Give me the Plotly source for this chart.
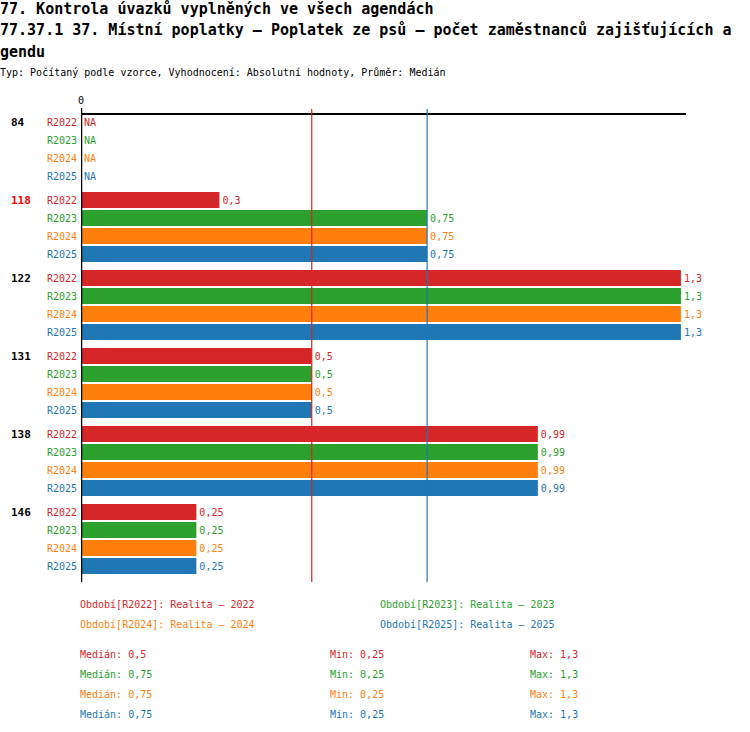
import plotly.graph_objects as go

groups = ["84", "118", "122", "131", "138", "146"]
series = ["R2022", "R2023", "R2024", "R2025"]
colors = ["#d62728", "#2ca02c", "#ff7f0e", "#1f77b4"]
r2022 = [None, 0.3, 1.3, 0.5, 0.99, 0.25]
r2023 = [None, 0.75, 1.3, 0.5, 0.99, 0.25]
r2024 = [None, 0.75, 1.3, 0.5, 0.99, 0.25]
r2025 = [None, 0.75, 1.3, 0.5, 0.99, 0.25]
values = [r2022, r2023, r2024, r2025]
medians = [0.5, 0.75, 0.75, 0.75]
mins = [0.25, 0.25, 0.25, 0.25]
maxs = [1.3, 1.3, 1.3, 1.3]
legend_names = ["Realita – 2022", "Realita – 2023", "Realita – 2024", "Realita – 2025"]

W, H = 750, 732
L, R, T, B = 81, 64, 108, 150
PW, PH = W - L - R, H - T - B
MONO = "DejaVu Sans Mono"


def px(x):
    return (x - L) / PW


def py(y):
    return (H - B - y) / PH


def fmt(v):
    return ("%g" % v).replace(".", ",")


def rowpos(g, i):
    return 14 + g * 78 + i * 18


fig = go.Figure()
ann = []

for i, s in enumerate(series):
    ys, xs, txt = [], [], []
    for g, grp in enumerate(groups):
        v = values[i][g]
        y = rowpos(g, i)
        ann.append(dict(x=0, xref="x", y=y, yref="y", text=s, xanchor="right", yanchor="middle",
                        xshift=-2, showarrow=False,
                        font=dict(family=MONO, size=10, color=colors[i])))
        if v is None:
            ann.append(dict(x=0, xref="x", y=y, yref="y", text="NA", xanchor="left",
                            yanchor="middle", xshift=1, showarrow=False,
                            font=dict(family=MONO, size=10, color=colors[i])))
            continue
        ys.append(y)
        xs.append(v)
        txt.append(fmt(v))
    fig.add_trace(go.Bar(x=xs, y=ys, orientation="h", width=16, marker_color=colors[i],
                         marker_line_width=0, text=txt, textposition="outside",
                         constraintext="none", cliponaxis=False,
                         textfont=dict(family=MONO, size=10, color=colors[i]),
                         name=s, showlegend=False, hoverinfo="x"))

for g, grp in enumerate(groups):
    ann.append(dict(x=px(9), xref="paper", y=rowpos(g, 0), yref="y", text="<b>%s</b>" % grp,
                    xanchor="left", yanchor="middle", showarrow=False,
                    font=dict(family=MONO, size=11, color="#ff0000" if grp == "118" else "black")))

shapes = [dict(type="line", xref="x", yref="paper", x0=0, x1=0, y0=0, y1=1,
               line=dict(color="black", width=2.5)),
          dict(type="line", xref="x", yref="y", x0=0, x1=1.311, y0=6, y1=6,
               line=dict(color="black", width=2))]
# median lines, the last series wins where they coincide
drawn = {}
for i in range(4):
    drawn[medians[i]] = i
for m, i in drawn.items():
    shapes.append(dict(type="line", xref="x", yref="paper", x0=m, x1=m,
                       y0=0, y1=0.998, line=dict(color=colors[i], width=1.2)))

ann.append(dict(x=0, xref="x", y=1, yref="paper", text="0", yanchor="bottom", showarrow=False,
                font=dict(family=MONO, size=10, color="black")))

title_lines = ["77. Kontrola úvazků vyplněných ve všech agendách",
               "77.37.1 37. Místní poplatky – Poplatek ze psů – počet zaměstnanců zajišťujících a",
               "gendu"]
for k, t in enumerate(title_lines):
    ann.append(dict(x=px(-2), xref="paper", y=py(9 + k * 21.5), yref="paper", text="<b>%s</b>" % t,
                    xanchor="left", yanchor="middle", showarrow=False,
                    font=dict(family=MONO, size=15, color="black")))
ann.append(dict(x=px(-2), xref="paper", y=py(73), yref="paper",
                text="Typ: Počítaný podle vzorce, Vyhodnocení: Absolutní hodnoty, Průměr: Medián",
                xanchor="left", yanchor="middle", showarrow=False,
                font=dict(family=MONO, size=10, color="black")))

leg_x = [78, 378, 78, 378]
leg_y = [604, 604, 624, 624]
for i, s in enumerate(series):
    ann.append(dict(x=px(leg_x[i]), xref="paper", y=py(leg_y[i]), yref="paper",
                    text="Období[%s]: %s" % (s, legend_names[i]),
                    xanchor="left", yanchor="middle", showarrow=False,
                    font=dict(family=MONO, size=10, color=colors[i])))
    yy = py(654 + i * 20)
    for xx, lab in [(78, "Medián: %s" % fmt(medians[i])), (328, "Min: %s" % fmt(mins[i])),
                    (528, "Max: %s" % fmt(maxs[i]))]:
        ann.append(dict(x=px(xx), xref="paper", y=yy, yref="paper", text=lab, xanchor="left",
                        yanchor="middle", showarrow=False,
                        font=dict(family=MONO, size=10, color=colors[i])))

fig.update_layout(width=W, height=H, margin=dict(l=L, r=R, t=T, b=B, autoexpand=False),
                  plot_bgcolor="white", paper_bgcolor="white", barmode="overlay",
                  xaxis=dict(range=[0, 1.311], showgrid=False, zeroline=False, showticklabels=False,
                             fixedrange=True),
                  yaxis=dict(range=[PH, 0], showgrid=False, zeroline=False, showticklabels=False,
                             fixedrange=True),
                  annotations=ann, shapes=shapes, uniformtext=dict(minsize=10, mode="show"))

# drop the default 8px body margin so the figure sits in the window corner
fig.write_html("out.html", config={"displayModeBar": False},
               post_script="document.body.style.margin='0px';")
